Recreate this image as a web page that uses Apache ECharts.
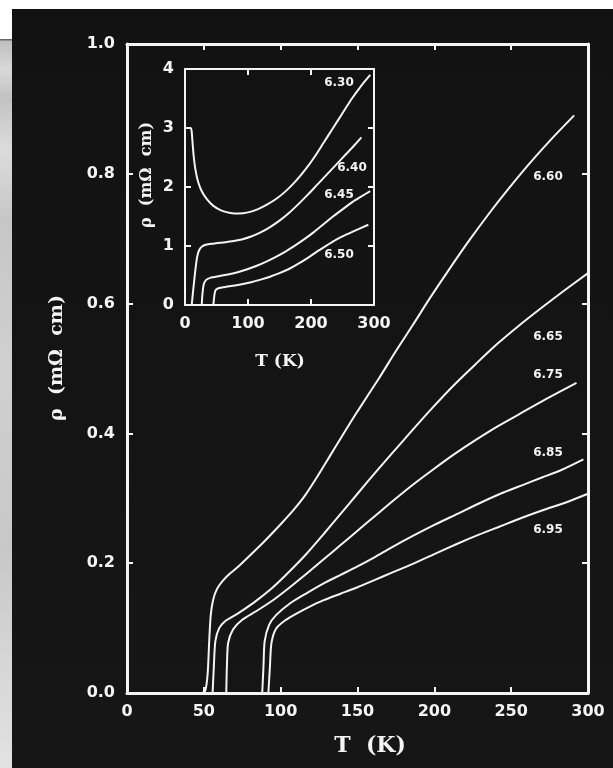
<!DOCTYPE html>
<html>
<head>
<meta charset="utf-8">
<script src="https://cdn.jsdelivr.net/npm/echarts@6/dist/echarts.min.js"></script>
<style>
  html, body { margin: 0; padding: 0; background: #fff; }
  #chart { width: 613px; height: 768px; }
</style>
</head>
<body>
<div id="chart"></div>
<script>
// Resistivity rho(T) of YBa2Cu3Ox films for several oxygen contents x.
// Main panel: rho in mOhm cm versus T in K.
var mainTicksX = [0, 50, 100, 150, 200, 250, 300];
var mainTicksY = [0.0, 0.2, 0.4, 0.6, 0.8, 1.0];
var insetTicksX = [0, 100, 200, 300];
var insetTicksY = [0, 1, 2, 3, 4];

var mainLabels = ['6.60', '6.65', '6.75', '6.85', '6.95'];
var insetLabels = ['6.30', '6.40', '6.45', '6.50'];

// [T (K), rho (mOhm cm)]
var rho660 = [[49,0],[51,0.004],[52.5,0.03],[53.5,0.08],[54.5,0.12],[56,0.143],[58.5,0.16],[62,0.172],[67,0.184],
  [73,0.196],[84,0.221],[92,0.24],[100,0.26],[108,0.281],[116,0.305],[124,0.334],[132,0.365],[140,0.396],
  [150,0.434],[164,0.485],[175,0.527],[186,0.567],[197,0.608],[208,0.647],[222,0.695],[236,0.74],[249,0.779],
  [262,0.816],[276,0.853],[291,0.89]];
var rho665 = [[55.7,0],[56.5,0.04],[57.5,0.08],[60,0.1],[64,0.111],[69,0.118],[75,0.127],[84,0.142],[95,0.163],
  [106,0.188],[117,0.215],[128,0.245],[139,0.276],[150,0.307],[161,0.338],[172,0.368],[185,0.403],[199,0.44],
  [213,0.475],[227,0.507],[241,0.538],[255,0.566],[270,0.594],[285,0.621],[300,0.647]];
var rho675 = [[64.6,0],[65,0.04],[65.8,0.077],[69,0.098],[75,0.113],[84,0.126],[95,0.143],[106,0.163],[117,0.184],
  [128,0.206],[139,0.228],[150,0.25],[161,0.272],[172,0.294],[185,0.319],[199,0.344],[213,0.368],[227,0.39],
  [242,0.412],[257,0.432],[272,0.452],[292.5,0.478]];
var rho685 = [[88,0],[88.8,0.04],[89.6,0.08],[92.5,0.105],[97,0.12],[106,0.138],[117,0.154],[128,0.169],
  [139,0.182],[150,0.195],[161,0.209],[172,0.224],[186,0.242],[200,0.259],[215,0.276],[229,0.292],[243,0.307],
  [257,0.32],[270,0.332],[283,0.344],[297,0.36]];
var rho695 = [[92,0],[93,0.04],[94,0.077],[97,0.099],[103,0.112],[110,0.122],[118,0.132],[128,0.143],[139,0.153],
  [150,0.163],[161,0.174],[172,0.185],[186,0.199],[200,0.214],[215,0.23],[229,0.244],[243,0.257],[257,0.27],
  [271,0.282],[286,0.294],[300,0.307]];

// Inset: lower oxygen contents, rho up to 4 mOhm cm
var rho630 = [[1,3.0],[9,3.0],[10.5,2.95],[12,2.75],[14,2.5],[17,2.27],[21,2.08],[27,1.92],[35,1.79],[45,1.68],
  [58,1.6],[72,1.56],[86,1.55],[100,1.57],[115,1.62],[130,1.7],[145,1.8],[160,1.93],[175,2.09],[190,2.28],
  [205,2.5],[220,2.75],[235,3.0],[250,3.25],[265,3.5],[280,3.72],[294,3.9]];
var rho640 = [[10.6,0],[13,0.25],[16,0.55],[19,0.8],[22,0.92],[27,0.99],[33,1.02],[45,1.04],[60,1.06],[75,1.08],
  [90,1.11],[105,1.16],[120,1.23],[135,1.32],[150,1.43],[165,1.56],[180,1.71],[195,1.87],[210,2.04],[225,2.21],
  [240,2.38],[255,2.55],[270,2.72],[280,2.84]];
var rho645 = [[26.5,0],[28,0.22],[30,0.36],[34,0.43],[40,0.46],[55,0.49],[70,0.52],[85,0.56],[100,0.61],
  [115,0.67],[130,0.74],[145,0.82],[160,0.91],[175,1.01],[190,1.12],[205,1.24],[220,1.37],[235,1.5],[250,1.62],
  [265,1.74],[280,1.84],[294,1.93]];
var rho650 = [[45,0],[46.5,0.15],[48,0.24],[52,0.28],[60,0.3],[75,0.325],[90,0.35],[105,0.385],[120,0.43],
  [135,0.48],[150,0.54],[165,0.61],[180,0.7],[195,0.8],[210,0.91],[225,1.01],[240,1.11],[255,1.19],[270,1.26],
  [291,1.36]];

var mainSeries = [rho660, rho665, rho675, rho685, rho695];
var insetSeries = [rho630, rho640, rho645, rho650];

var FG = '#f4f4f4';
var TICK_FONT = 'DejaVu Sans';
var TITLE_FONT = 'DejaVu Serif';

function fmt1(v) { return v.toFixed(1); }

function axisBase(gridIndex, pos, min, max, interval, lineW, showLabel, fmt, margin) {
  return {
    type: 'value', gridIndex: gridIndex, position: pos, min: min, max: max, interval: interval,
    axisLine: { show: true, onZero: false, lineStyle: { color: FG, width: lineW } },
    axisTick: { show: true, inside: true, length: 6, lineStyle: { color: FG, width: 2 } },
    splitLine: { show: false },
    axisLabel: {
      show: showLabel, color: FG, fontFamily: TICK_FONT, fontWeight: 'bold', fontSize: 16,
      margin: margin, formatter: fmt
    }
  };
}

function lineSeries(data, xi, yi) {
  return {
    type: 'line', xAxisIndex: xi, yAxisIndex: yi, data: data,
    showSymbol: false, smooth: 0.25,
    lineStyle: { color: FG, width: 2 }, silent: true, animation: false, z: 5
  };
}

var series = [];
mainSeries.forEach(function (d) { series.push(lineSeries(d, 0, 0)); });
insetSeries.forEach(function (d) { series.push(lineSeries(d, 2, 2)); });

function txt(x, y, s, font, size, rot) {
  return {
    type: 'text', x: x, y: y, rotation: rot || 0, z: 20,
    style: { text: s, fill: FG, font: 'bold ' + size + 'px "' + font + '"', align: 'center', verticalAlign: 'middle' }
  };
}

var mainLabelPos = [[548, 177], [548, 337], [548, 375], [548, 453], [548, 530]];
var insetLabelPos = [[339, 83], [352, 168], [339, 195], [339, 255]];

var graphics = [
  // page backdrop: white margin strip, grey side bar and dark panel
  { type: 'rect', shape: { x: 0, y: 0, width: 613, height: 768 }, style: { fill: '#ffffff' }, z: -100 },
  { type: 'rect', shape: { x: 0, y: 40, width: 12, height: 728 }, z: -99,
    style: { fill: new echarts.graphic.LinearGradient(0, 0, 0, 1, [
      { offset: 0, color: '#bdbdbd' }, { offset: 0.04, color: '#d9d9d9' }, { offset: 0.08, color: '#c2c2c2' },
      { offset: 0.15, color: '#dcdcdc' }, { offset: 0.25, color: '#c6c6c6' }, { offset: 0.45, color: '#d0d0d0' },
      { offset: 0.7, color: '#c8c8c8' }, { offset: 0.85, color: '#d6d6d6' }, { offset: 1, color: '#e2e2e2' }]) } },
  { type: 'rect', shape: { x: 0, y: 39, width: 12, height: 1.5 }, style: { fill: '#6a6a6a' }, z: -98 },
  { type: 'rect', shape: { x: 12, y: 9, width: 601, height: 759 }, z: -97,
    style: { fill: new echarts.graphic.LinearGradient(0, 0, 0, 1, [
      { offset: 0, color: '#121212' }, { offset: 1, color: '#161616' }]) } },
  txt(57, 358, 'ρ  (mΩ  cm)', TITLE_FONT, 19, Math.PI / 2),
  txt(370, 746, 'T  (K)', TITLE_FONT, 22, 0),
  txt(147, 175, 'ρ  (mΩ  cm)', TITLE_FONT, 16, Math.PI / 2),
  txt(280, 362, 'T (K)', TITLE_FONT, 17, 0)
];
mainLabels.forEach(function (s, i) { graphics.push(txt(mainLabelPos[i][0], mainLabelPos[i][1], s, TICK_FONT, 12, 0)); });
insetLabels.forEach(function (s, i) { graphics.push(txt(insetLabelPos[i][0], insetLabelPos[i][1], s, TICK_FONT, 12, 0)); });

var chart = echarts.init(document.getElementById('chart'), null, { renderer: 'canvas' });
chart.setOption({
  backgroundColor: 'transparent',
  animation: false,
  grid: [
    { left: 127, top: 44, width: 461, height: 649, containLabel: false },
    { left: 185, top: 69, width: 189, height: 236, containLabel: false }
  ],
  xAxis: [
    axisBase(0, 'bottom', mainTicksX[0], mainTicksX[mainTicksX.length - 1], 50, 3, true, null, 11),
    axisBase(0, 'top', mainTicksX[0], mainTicksX[mainTicksX.length - 1], 50, 3, false, null, 8),
    axisBase(1, 'bottom', insetTicksX[0], insetTicksX[insetTicksX.length - 1], 100, 2, true, null, 11),
    axisBase(1, 'top', insetTicksX[0], insetTicksX[insetTicksX.length - 1], 100, 2, false, null, 8)
  ],
  yAxis: [
    axisBase(0, 'left', mainTicksY[0], mainTicksY[mainTicksY.length - 1], 0.2, 3, true, fmt1, 12),
    axisBase(0, 'right', mainTicksY[0], mainTicksY[mainTicksY.length - 1], 0.2, 3, false, fmt1, 8),
    axisBase(1, 'left', insetTicksY[0], insetTicksY[insetTicksY.length - 1], 1, 2, true, null, 11),
    axisBase(1, 'right', insetTicksY[0], insetTicksY[insetTicksY.length - 1], 1, 2, false, null, 8)
  ],
  series: series.map(function (s, i) {
    if (i >= mainSeries.length) { s.xAxisIndex = 2; s.yAxisIndex = 2; }
    return s;
  }),
  graphic: { elements: graphics }
});
</script>
</body>
</html>
